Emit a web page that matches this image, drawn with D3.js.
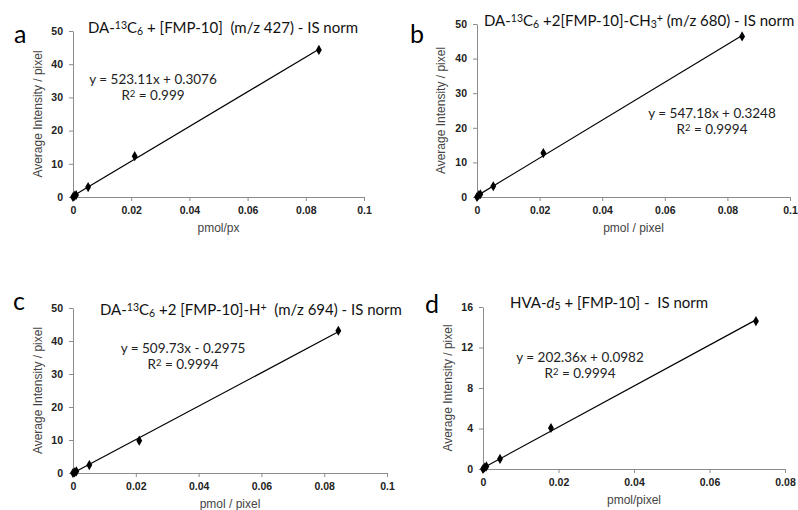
<!DOCTYPE html>
<html>
<head>
<meta charset="utf-8">
<script src="https://cdn.jsdelivr.net/npm/d3@7"></script>
<style>
  body { margin: 0; background: #fff; }
  svg { display: block; }
  text { white-space: pre; }
  .tick text { font-family: "Liberation Sans", Arial, sans-serif; font-weight: bold; font-size: 10.5px; fill: #222; }
  .domain, .tick line { stroke: #8c8c8c; }
</style>
</head>
<body>
<svg id="chart" width="798" height="510"></svg>
<script>
// Calibration data (x = pmol per pixel, y = average intensity / pixel)
const concA = [0, 0.00053, 0.00106, 0.0052, 0.0212, 0.0845];
const intA  = [0, 0.35, 0.6, 3.0, 12.3, 44.3];
const concB = [0, 0.00053, 0.00106, 0.0052, 0.0212, 0.0847];
const intB  = [0, 0.5, 0.8, 3.1, 12.7, 46.4];
const concC = [0, 0.00053, 0.00106, 0.0052, 0.0211, 0.0845];
const intC  = [0, 0.2, 0.5, 2.4, 9.8, 43.1];
const concD = [0, 0.00045, 0.0009, 0.0045, 0.018, 0.0723];
const intD  = [0, 0.15, 0.25, 1.0, 4.05, 14.6];

// Trendline fits as printed
const slopes = [523.11, 547.18, 509.73, 202.36];
const intercepts = [0.3076, 0.3248, -0.2975, 0.0982];
const eqLabels = ['y = 523.11x + 0.3076', 'y = 547.18x + 0.3248', 'y = 509.73x - 0.2975', 'y = 202.36x + 0.0982'];
const r2Labels = ['0.999', '0.9994', '0.9994', '0.9994'];

// Axis ticks
const xTicksABC = [0, 0.02, 0.04, 0.06, 0.08, 0.1];
const xTicksD = [0, 0.02, 0.04, 0.06, 0.08];
const yTicksABC = [0, 10, 20, 30, 40, 50];
const yTicksD = [0, 4, 8, 12, 16];

const panelLetters = ['a', 'b', 'c', 'd'];
const xLabels = ['pmol/px', 'pmol / pixel', 'pmol / pixel', 'pmol/pixel'];
// titles as rich text segments
const titles = [
    [['DA-'], ['13', 'sup'], ['C'], ['6', 'sub'], [' + [FMP-10]  (m/z 427) - IS norm']],
    [['DA-'], ['13', 'sup'], ['C'], ['6', 'sub'], [' +2[FMP-10]-CH'], ['3', 'sub'], ['+', 'sup'], [' (m/z 680) - IS norm']],
    [['DA-'], ['13', 'sup'], ['C'], ['6', 'sub'], [' +2 [FMP-10]-H'], ['+', 'sup'], ['  (m/z 694) - IS norm']],
    [['HVA-'], ['d', 'i'], ['5', 'sub'], [' + [FMP-10] -  IS norm']]
];

const svg = d3.select('#chart');
const titleFont = 'Lato, "Open Sans", sans-serif';
const arialFont = '"Liberation Sans", Arial, sans-serif';

// layout of each panel (pixel frame)
const layout = [
    {x: [73, 364], y: [197, 31], xMax: 0.1, yMax: 50, letter: [14, 43], title: [88, 33], eq: [153, 84], yLab: 42},
    {x: [477, 790], y: [197, 24], xMax: 0.1, yMax: 50, letter: [410, 43], title: [484, 26], eq: [712, 118], yLab: 445},
    {x: [73, 387], y: [473, 308], xMax: 0.1, yMax: 50, letter: [13, 310], title: [100, 315], eq: [183, 353], yLab: 42},
    {x: [483, 785], y: [469, 307], xMax: 0.08, yMax: 16, letter: [425, 313], title: [510, 308], eq: [580, 362], yLab: 452}
];

const concs = [concA, concB, concC, concD];
const ints = [intA, intB, intC, intD];

function richText(sel, segs) {
    segs.forEach(([t, kind]) => {
        const ts = sel.append('tspan').text(t);
        if (kind === 'sup') ts.attr('baseline-shift', '38%').style('font-size', '70%');
        if (kind === 'sub') ts.attr('baseline-shift', '-18%').style('font-size', '70%');
        if (kind === 'i') ts.style('font-style', 'italic');
    });
}

layout.forEach((L, i) => {
    const x = d3.scaleLinear().domain([0, L.xMax]).range(L.x);
    const y = d3.scaleLinear().domain([0, L.yMax]).range(L.y);
    const g = svg.append('g');

    const xTicks = i === 3 ? xTicksD : xTicksABC;
    const yTicks = i === 3 ? yTicksD : yTicksABC;

    g.append('g')
        .attr('transform', `translate(0,${L.y[0]})`)
        .call(d3.axisBottom(x).tickValues(xTicks).tickFormat(d3.format('~g')).tickSize(4).tickSizeOuter(0).tickPadding(4))
        .call(a => a.selectAll('text').attr('dy', '0.9em'));

    g.append('g')
        .attr('transform', `translate(${L.x[0]},0)`)
        .call(d3.axisLeft(y).tickValues(yTicks).tickSize(4).tickSizeOuter(0).tickPadding(6));

    // trendline
    const xEnd = d3.max(concs[i]);
    g.append('line')
        .attr('x1', x(0)).attr('y1', y(Math.max(0, intercepts[i])))
        .attr('x2', x(xEnd)).attr('y2', y(slopes[i] * xEnd + intercepts[i]))
        .attr('stroke', '#000').attr('stroke-width', 1.2);

    // points
    g.selectAll('path.pt')
        .data(concs[i].map((c, k) => [c, ints[i][k]]))
        .join('path')
        .attr('class', 'pt')
        .attr('d', d3.symbol(d3.symbolDiamond, 30))
        .attr('transform', d => `translate(${x(d[0])},${y(d[1])})`)
        .attr('fill', '#000');

    // panel letter
    g.append('text')
        .attr('x', L.letter[0]).attr('y', L.letter[1])
        .style('font-family', titleFont).style('font-size', '25px')
        .text(panelLetters[i]);

    // title
    const t = g.append('text')
        .attr('x', L.title[0]).attr('y', L.title[1])
        .style('font-family', titleFont).style('font-size', '15px').attr('fill', '#111');
    richText(t, titles[i]);

    // equation + R²
    g.append('text')
        .attr('x', L.eq[0]).attr('y', L.eq[1])
        .attr('text-anchor', 'middle')
        .style('font-family', titleFont).style('font-size', '13.5px').attr('fill', '#222')
        .text(eqLabels[i]);
    const r = g.append('text')
        .attr('x', L.eq[0]).attr('y', L.eq[1] + 16)
        .attr('text-anchor', 'middle')
        .style('font-family', titleFont).style('font-size', '13.5px').attr('fill', '#222');
    richText(r, [['R'], ['2', 'sup'], [' = ' + r2Labels[i]]]);

    // axis labels
    g.append('text')
        .attr('x', (L.x[0] + L.x[1]) / 2).attr('y', L.y[0] + 35)
        .attr('text-anchor', 'middle')
        .style('font-family', arialFont).style('font-size', '12px').attr('fill', '#444')
        .text(xLabels[i]);

    g.append('text')
        .attr('transform', `translate(${L.yLab},${(L.y[0] + L.y[1]) / 2}) rotate(-90)`)
        .attr('text-anchor', 'middle')
        .style('font-family', arialFont).style('font-size', '12px').attr('fill', '#444')
        .text('Average Intensity / pixel');
});
</script>
</body>
</html>
